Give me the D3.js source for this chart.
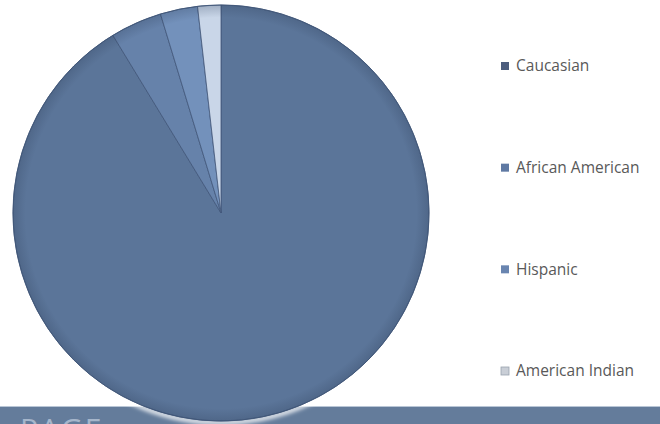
<!DOCTYPE html>
<html>
<head>
<meta charset="utf-8">
<script src="https://cdn.jsdelivr.net/npm/d3@7"></script>
<style>
  html, body { margin: 0; padding: 0; background: #ffffff; }
  svg { display: block; }
</style>
</head>
<body>
<svg id="chart" width="660" height="424"></svg>
<script>
// Ethnic breakdown (percent of total)
const categories = ["Caucasian", "African American", "Hispanic", "American Indian"];
const shares = [91.3, 4.0, 2.9, 1.8];
const sliceColors = ["#5b7599", "#6682aa", "#7391bb", "#c9d6e8"];
const legendColors = ["#4c5d7d", "#5f79a3", "#6985b0", "#c9ced6"];
const footerText = "PAGE";

const svg = d3.select("#chart");
const W = 660, H = 424;
const cx = 221, cy = 213, R = 208;

// footer band behind the pie
svg.append("rect")
  .attr("x", 0).attr("y", 406).attr("width", W).attr("height", H - 406)
  .attr("fill", "#647c9b");
svg.append("rect")
  .attr("x", 0).attr("y", 406).attr("width", W).attr("height", 1)
  .attr("fill", "#b9c6d6");
svg.append("text")
  .attr("x", 20).attr("y", 440)
  .attr("font-family", "'Open Sans', sans-serif")
  .attr("font-size", 30)
  .attr("letter-spacing", 2)
  .attr("fill", "#a6b6cb")
  .text(footerText);

const defs = svg.append("defs");
defs.append("filter").attr("id", "halo")
  .attr("x", "-10%").attr("y", "-10%").attr("width", "120%").attr("height", "120%")
  .append("feGaussianBlur").attr("stdDeviation", 2);

const rim = defs.append("radialGradient").attr("id", "rim")
  .attr("cx", "50%").attr("cy", "50%").attr("r", "50%");
rim.append("stop").attr("offset", "0.94").attr("stop-color", "#2c3d58").attr("stop-opacity", 0);
rim.append("stop").attr("offset", "1").attr("stop-color", "#2c3d58").attr("stop-opacity", 0.25);

const g = svg.append("g").attr("transform", `translate(${cx},${cy})`);

// soft white halo around the disc
g.append("circle").attr("r", R + 1.5)
  .attr("fill", "none").attr("stroke", "#ffffff").attr("stroke-width", 4)
  .attr("filter", "url(#halo)");

const pie = d3.pie().sort(null).value(d => d);
const arc = d3.arc().innerRadius(0).outerRadius(R);
const arcs = pie(shares);

g.selectAll("path.slice")
  .data(arcs)
  .join("path")
  .attr("class", "slice")
  .attr("d", arc)
  .attr("fill", (d, i) => sliceColors[i])
  .attr("stroke", "#41577a")
  .attr("stroke-width", 0.8)
  .attr("stroke-linejoin", "round");

// darker edge shading
g.append("circle").attr("r", R).attr("fill", "url(#rim)");
g.append("circle").attr("r", R).attr("fill", "none")
  .attr("stroke", "#3f5577").attr("stroke-width", 0.8);

// legend
const legendY = d3.scalePoint().domain(categories).range([66, 371]);
const leg = svg.append("g");
const items = leg.selectAll("g.item")
  .data(categories)
  .join("g")
  .attr("class", "item")
  .attr("transform", d => `translate(501,${legendY(d)})`);
items.append("rect")
  .attr("x", 0).attr("y", -4).attr("width", 8).attr("height", 8)
  .attr("fill", (d, i) => legendColors[i])
  .attr("stroke", (d, i) => i === 3 ? "#9aa3ae" : "none")
  .attr("stroke-width", 0.8);
items.append("text")
  .attr("x", 15).attr("y", 0)
  .attr("dy", "0.35em")
  .attr("font-family", "'Open Sans', sans-serif")
  .attr("font-size", 15.5)
  .attr("fill", "#595959")
  .text(d => d);
</script>
</body>
</html>
